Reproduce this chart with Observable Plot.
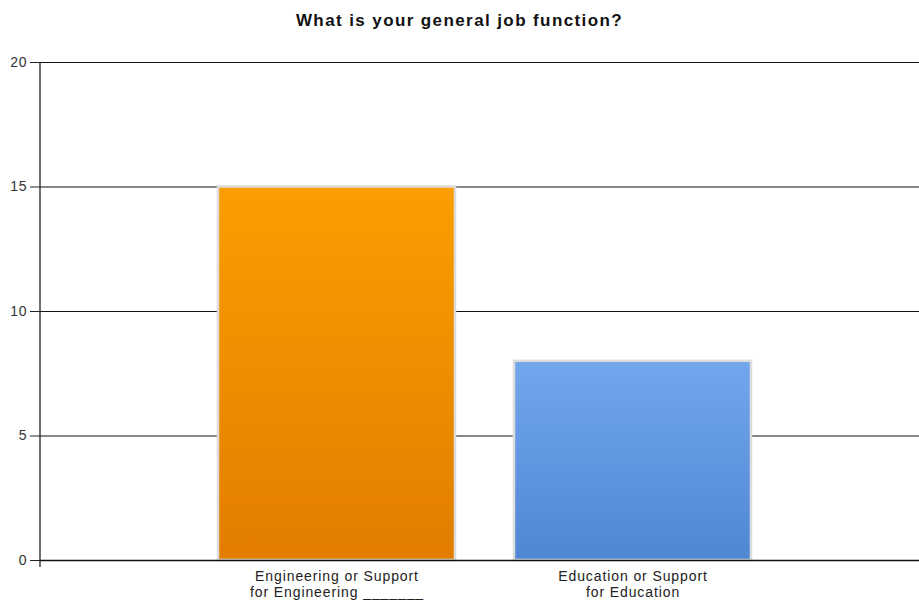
<!DOCTYPE html>
<html>
<head>
<meta charset="utf-8">
<script src="https://cdn.jsdelivr.net/npm/d3@7"></script>
<script src="https://cdn.jsdelivr.net/npm/@observablehq/plot@0.6"></script>
<style>
  body { margin: 0; background: #fff; font-family: "Liberation Sans", Arial, sans-serif; }
  #title { height: 40px; line-height: 41px; text-align: center; font-weight: bold; font-size: 17px; letter-spacing: 1.4px; color: #111; }
  #chart svg text { letter-spacing: 0.9px; }
</style>
</head>
<body>
<div id="title">What is your general job function?</div>
<div id="chart"></div>
<script>
const categories = ["Engineering or Support\nfor Engineering _______", "Education or Support\nfor Education"];
const values = [15, 8];
const yTicks = [0, 5, 10, 15, 20];
const gradients = [["gO", "#fb9e00", "#e27d00"], ["gB", "#72a7ec", "#4f87d3"]];

const data = categories.map((c, i) => ({cat: c, value: values[i]}));

const defs = () => {
  const ns = "http://www.w3.org/2000/svg";
  const d = document.createElementNS(ns, "defs");
  for (const [id, top, bottom] of gradients) {
    const g = document.createElementNS(ns, "linearGradient");
    g.setAttribute("id", id);
    g.setAttribute("x1", "0"); g.setAttribute("y1", "0");
    g.setAttribute("x2", "0"); g.setAttribute("y2", "1");
    const s1 = document.createElementNS(ns, "stop");
    s1.setAttribute("offset", "0"); s1.setAttribute("stop-color", top);
    const s2 = document.createElementNS(ns, "stop");
    s2.setAttribute("offset", "1"); s2.setAttribute("stop-color", bottom);
    g.append(s1, s2);
    d.append(g);
  }
  return d;
};

const yAxisLine = (index, scales, values, dimensions) => {
  const ns = "http://www.w3.org/2000/svg";
  const l = document.createElementNS(ns, "line");
  const x = dimensions.marginLeft;
  l.setAttribute("x1", x); l.setAttribute("x2", x);
  l.setAttribute("y1", scales.y(20)); l.setAttribute("y2", scales.y(0) + 7);
  l.setAttribute("stroke", "#222");
  l.setAttribute("stroke-width", 1.3);
  return l;
};

const chart = Plot.plot({
  width: 919,
  height: 566,
  marginTop: 22,
  marginBottom: 46,
  marginLeft: 40,
  marginRight: 0,
  style: {fontFamily: "'Liberation Sans', Arial, sans-serif", fontSize: "14px", color: "#222", background: "#fff"},
  x: {domain: categories, paddingInner: 0.2, paddingOuter: 0.584, align: 0.514, label: null},
  y: {domain: [0, 20], label: null},
  color: {domain: categories, range: gradients.map(g => `url(#${g[0]})`)},
  marks: [
    defs,
    Plot.ruleY(yTicks.filter(t => t > 0), {stroke: "#111", strokeWidth: 1.2}),
    Plot.barY(data, {x: "cat", y: "value", fill: "cat", stroke: "#dcdcdc", strokeWidth: 2.5}),
    Plot.ruleY([0], {stroke: "#111", strokeWidth: 1.4}),
    yAxisLine,
    Plot.axisY({ticks: yTicks, tickSize: 10, tickPadding: 3, tickFormat: d => d, stroke: "#222", fill: "#333", label: null}),
    Plot.axisX({tickSize: 0, tickPadding: 9, fill: "#222", label: null, lineHeight: 1.15})
  ]
});
document.getElementById("chart").append(chart);
</script>
</body>
</html>
